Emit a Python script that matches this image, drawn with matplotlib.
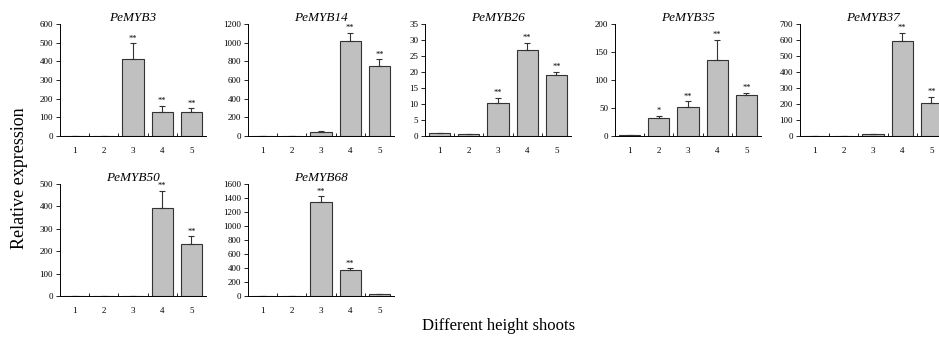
import numpy as np
import matplotlib.pyplot as plt

plt.rcParams['font.family'] = ['Liberation Serif', 'DejaVu Serif']

# Data.
SHOOTS = ['1', '2', '3', '4', '5']
GENES = ['PeMYB3', 'PeMYB14', 'PeMYB26', 'PeMYB35', 'PeMYB37', 'PeMYB50', 'PeMYB68']
MEANS = [
    [2, 2, 411, 130, 127],
    [5, 5, 39, 1014, 746],
    [1.0, 0.6, 10.3, 27.0, 19.2],
    [1, 33, 51, 135, 73],
    [3, 3, 10, 592, 204],
    [2, 2, 2, 391, 231],
    [5, 5, 1343, 367, 24],
]
ERRORS = [
    [0, 0, 85, 31, 21],
    [0, 0, 11, 93, 75],
    [0, 0, 1.6, 2.1, 0.9],
    [0, 3, 11, 37, 4],
    [0, 0, 4, 54, 42],
    [0, 0, 0, 78, 35],
    [0, 0, 86, 28, 3],
]
STARS = [
    ['', '', '**', '**', '**'],
    ['', '', '', '**', '**'],
    ['', '', '**', '**', '**'],
    ['', '*', '**', '**', '**'],
    ['', '', '', '**', '**'],
    ['', '', '', '**', '**'],
    ['', '', '**', '**', ''],
]
YMAX = [600, 1200, 35, 200, 700, 500, 1600]
YSTEP = [100, 200, 5, 50, 100, 100, 200]

W, H = 939, 338
fig = plt.figure(figsize=(W / 100, H / 100), dpi=100)

# Panel placement in pixels (left, zero line y).
lefts = [60, 248, 425, 615, 800, 60, 248]
zeros = [136, 136, 136, 136, 136, 296, 296]
pw, ph = 146, 112

x = np.arange(1, 6)
for i, gene in enumerate(GENES):
    ax = fig.add_axes([lefts[i] / W, 1 - zeros[i] / H, pw / W, ph / H])
    means = np.array(MEANS[i])
    errs = np.array(ERRORS[i])
    ax.bar(x, means, width=0.72, color='#c0c0c0', edgecolor='#333333', linewidth=0.8)
    ax.errorbar(x, means, yerr=[np.zeros_like(errs), errs], fmt='none',
                ecolor='#333333', elinewidth=0.8, capsize=2.5, capthick=0.8)
    for xi, m, e, s in zip(x, means, errs, STARS[i]):
        if s:
            ax.text(xi, m + e + YMAX[i] * 0.005, s, ha='center', va='bottom', fontsize=6)
    ax.set_xlim(0.5, 5.5)
    ax.set_ylim(0, YMAX[i])
    ax.set_yticks(np.arange(0, YMAX[i] + YSTEP[i] / 2, YSTEP[i]))
    ax.set_xticks(x)
    ax.set_xticklabels(SHOOTS)
    ax.set_xticks(np.arange(1.5, 5.5, 1), minor=True)
    ax.tick_params(axis='x', which='major', length=0, labelsize=6.5, pad=8)
    ax.tick_params(axis='x', which='minor', direction='in', length=2.5, width=0.6)
    ax.tick_params(axis='y', direction='out', length=3, width=0.6, labelsize=6.5, pad=2)
    ax.spines['top'].set_visible(False)
    ax.spines['right'].set_visible(False)
    for sp in ('left', 'bottom'):
        ax.spines[sp].set_linewidth(0.7)
    ax.set_title(gene, fontstyle='italic', fontsize=9.5, pad=-5)

fig.text(20 / W, 1 - 178 / H, 'Relative expression', rotation=90,
         ha='center', va='center', fontsize=13)
fig.text(499 / W, 1 - 326 / H, 'Different height shoots',
         ha='center', va='center', fontsize=12)

fig.savefig('out.png', dpi=100)
